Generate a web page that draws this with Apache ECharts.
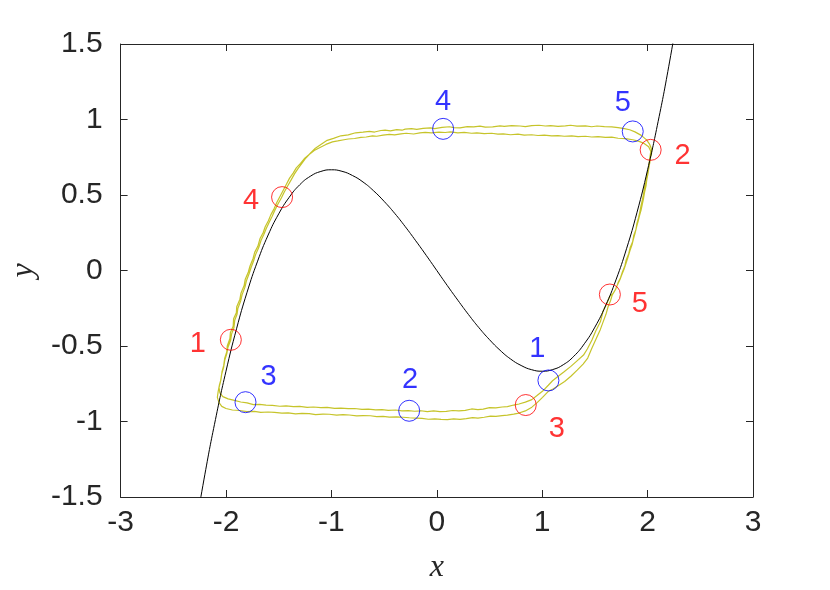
<!DOCTYPE html>
<html><head><meta charset="utf-8">
<script src="https://cdn.jsdelivr.net/npm/echarts/dist/echarts.min.js"></script>
<style>html,body{margin:0;padding:0;background:#fff}#c{width:830px;height:590px}</style>
</head><body><div id="c"></div>
<script>
// Cubic nullcline (black curve)
const cubicX = [-2.3,-2.2,-2.1,-2.0,-1.9,-1.8,-1.7,-1.6,-1.5,-1.4,-1.3,-1.2,-1.1,-1.0,-0.9,-0.8,-0.7,-0.6,-0.5,-0.4,-0.3,-0.2,-0.1,0,0.1,0.2,0.3,0.4,0.5,0.6,0.7,0.8,0.9,1.0,1.1,1.2,1.3,1.4,1.5,1.6,1.7,1.8,1.9,2.0,2.1,2.2,2.3];
const cubicY = [-1.756,-1.349,-0.987,-0.667,-0.386,-0.144,0.062,0.235,0.375,0.485,0.568,0.624,0.656,0.667,0.657,0.629,0.586,0.528,0.458,0.379,0.291,0.197,0.100,0,-0.100,-0.197,-0.291,-0.379,-0.458,-0.528,-0.586,-0.629,-0.657,-0.667,-0.656,-0.624,-0.568,-0.485,-0.375,-0.235,-0.062,0.144,0.386,0.667,0.987,1.349,1.756];

// Noisy trajectory, first lap
const trajLoopA = [[2.035,0.80],[2.03,0.76],[2.022,0.72],[2.012,0.68],[2.003,0.64],[1.992,0.60],[1.985,0.56],[1.972,0.52],[1.962,0.48],[1.95,0.44],[1.938,0.40],[1.922,0.36],[1.912,0.33],[1.896,0.29],[1.882,0.25],[1.866,0.21],[1.852,0.17],[1.832,0.13],[1.815,0.09],[1.796,0.05],[1.777,0.01],[1.754,-0.03],[1.738,-0.06],[1.711,-0.10],[1.692,-0.13],[1.666,-0.16],[1.648,-0.20],[1.625,-0.24],[1.605,-0.29],[1.578,-0.34],[1.552,-0.39],[1.513,-0.45],[1.468,-0.52],[1.432,-0.58],[1.388,-0.62],[1.332,-0.66],[1.272,-0.70],[1.213,-0.735],[1.148,-0.765],[1.102,-0.785],[1.058,-0.80],[1.003,-0.84],[0.952,-0.875],[0.902,-0.905],[0.84,-0.93],[0.78,-0.944],[0.73,-0.951],[0.67,-0.958],[0.62,-0.961],[0.56,-0.966],[0.51,-0.965],[0.45,-0.972],[0.39,-0.978],[0.34,-0.974],[0.28,-0.981],[0.22,-0.986],[0.16,-0.983],[0.10,-0.988],[0.04,-0.986],[-0.02,-0.982],[-0.08,-0.985],[-0.14,-0.979],[-0.20,-0.977],[-0.26,-0.975],[-0.32,-0.972],[-0.38,-0.97],[-0.45,-0.971],[-0.51,-0.966],[-0.57,-0.968],[-0.63,-0.962],[-0.70,-0.961],[-0.76,-0.963],[-0.83,-0.957],[-0.89,-0.955],[-0.95,-0.958],[-1.02,-0.952],[-1.08,-0.951],[-1.15,-0.954],[-1.21,-0.948],[-1.28,-0.946],[-1.34,-0.949],[-1.41,-0.943],[-1.47,-0.944],[-1.54,-0.94],[-1.60,-0.937],[-1.67,-0.939],[-1.73,-0.933],[-1.80,-0.935],[-1.87,-0.927],[-1.94,-0.924],[-2.00,-0.914],[-2.04,-0.90],[-2.066,-0.875],[-2.082,-0.84],[-2.074,-0.80],[-2.063,-0.76],[-2.047,-0.72],[-2.038,-0.67],[-2.022,-0.63],[-2.012,-0.58],[-1.993,-0.54],[-1.988,-0.50],[-1.963,-0.45],[-1.958,-0.41],[-1.932,-0.37],[-1.928,-0.32],[-1.902,-0.28],[-1.898,-0.24],[-1.868,-0.19],[-1.858,-0.15],[-1.828,-0.10],[-1.818,-0.06],[-1.788,-0.01],[-1.772,0.03],[-1.743,0.08],[-1.728,0.12],[-1.698,0.16],[-1.678,0.21],[-1.648,0.25],[-1.628,0.29],[-1.598,0.33],[-1.574,0.37],[-1.543,0.41],[-1.518,0.45],[-1.488,0.49],[-1.458,0.53],[-1.428,0.57],[-1.398,0.61],[-1.363,0.645],[-1.333,0.68],[-1.293,0.71],[-1.258,0.74],[-1.208,0.77],[-1.163,0.795],[-1.108,0.815],[-1.052,0.835],[-0.99,0.852],[-0.94,0.858],[-0.88,0.866],[-0.84,0.871],[-0.78,0.874],[-0.72,0.882],[-0.67,0.884],[-0.61,0.892],[-0.57,0.889],[-0.51,0.896],[-0.45,0.901],[-0.40,0.898],[-0.34,0.905],[-0.29,0.909],[-0.22,0.904],[-0.16,0.911],[-0.11,0.915],[-0.05,0.912],[0.02,0.917],[0.08,0.914],[0.13,0.918],[0.20,0.912],[0.26,0.915],[0.33,0.909],[0.38,0.911],[0.45,0.906],[0.52,0.909],[0.58,0.903],[0.63,0.905],[0.70,0.899],[0.77,0.903],[0.83,0.897],[0.90,0.899],[0.96,0.894],[1.02,0.897],[1.09,0.891],[1.15,0.893],[1.21,0.889],[1.28,0.892],[1.34,0.886],[1.41,0.889],[1.47,0.884],[1.53,0.886],[1.60,0.881],[1.66,0.883],[1.72,0.876],[1.79,0.873],[1.86,0.866],[1.92,0.855],[1.97,0.84],[2.01,0.82],[2.03,0.79]];

// Noisy trajectory, second lap
const trajLoopB = [[2.022,0.75],[2.014,0.71],[2.007,0.67],[1.993,0.63],[1.985,0.59],[1.97,0.55],[1.962,0.51],[1.951,0.47],[1.938,0.43],[1.927,0.39],[1.914,0.35],[1.898,0.31],[1.889,0.27],[1.868,0.23],[1.858,0.19],[1.834,0.15],[1.82,0.11],[1.797,0.07],[1.784,0.03],[1.761,-0.01],[1.742,-0.05],[1.72,-0.08],[1.70,-0.12],[1.675,-0.15],[1.642,-0.17],[1.612,-0.22],[1.578,-0.27],[1.552,-0.34],[1.508,-0.40],[1.472,-0.46],[1.428,-0.52],[1.392,-0.56],[1.328,-0.60],[1.272,-0.635],[1.208,-0.67],[1.152,-0.70],[1.098,-0.73],[1.058,-0.76],[1.002,-0.80],[0.948,-0.83],[0.902,-0.855],[0.84,-0.872],[0.78,-0.884],[0.73,-0.891],[0.67,-0.902],[0.62,-0.904],[0.56,-0.91],[0.50,-0.908],[0.44,-0.918],[0.39,-0.921],[0.33,-0.917],[0.27,-0.926],[0.21,-0.93],[0.15,-0.927],[0.09,-0.933],[0.03,-0.935],[-0.03,-0.93],[-0.09,-0.934],[-0.15,-0.929],[-0.21,-0.932],[-0.27,-0.928],[-0.33,-0.93],[-0.39,-0.924],[-0.46,-0.926],[-0.52,-0.921],[-0.58,-0.923],[-0.65,-0.918],[-0.71,-0.92],[-0.78,-0.914],[-0.84,-0.915],[-0.91,-0.911],[-0.97,-0.913],[-1.04,-0.907],[-1.10,-0.908],[-1.17,-0.904],[-1.23,-0.906],[-1.30,-0.90],[-1.36,-0.901],[-1.43,-0.897],[-1.49,-0.899],[-1.56,-0.893],[-1.62,-0.892],[-1.68,-0.887],[-1.74,-0.888],[-1.80,-0.877],[-1.86,-0.871],[-1.92,-0.86],[-1.98,-0.85],[-2.03,-0.835],[-2.058,-0.81],[-2.066,-0.775],[-2.052,-0.735],[-2.042,-0.69],[-2.022,-0.64],[-2.012,-0.595],[-1.992,-0.55],[-1.982,-0.51],[-1.955,-0.46],[-1.947,-0.42],[-1.925,-0.38],[-1.917,-0.33],[-1.895,-0.29],[-1.887,-0.25],[-1.86,-0.20],[-1.847,-0.16],[-1.82,-0.11],[-1.807,-0.07],[-1.78,-0.02],[-1.762,0.02],[-1.735,0.07],[-1.717,0.11],[-1.69,0.15],[-1.667,0.20],[-1.64,0.24],[-1.617,0.28],[-1.59,0.32],[-1.562,0.36],[-1.535,0.40],[-1.507,0.44],[-1.475,0.48],[-1.447,0.52],[-1.415,0.56],[-1.382,0.60],[-1.35,0.64],[-1.317,0.675],[-1.28,0.71],[-1.242,0.745],[-1.195,0.78],[-1.152,0.81],[-1.10,0.835],[-1.04,0.862],[-0.98,0.875],[-0.91,0.892],[-0.84,0.898],[-0.77,0.912],[-0.70,0.916],[-0.64,0.921],[-0.59,0.917],[-0.53,0.927],[-0.49,0.93],[-0.44,0.925],[-0.38,0.933],[-0.33,0.929],[-0.30,0.936],[-0.24,0.94],[-0.19,0.934],[-0.13,0.941],[-0.06,0.945],[-0.02,0.94],[0.05,0.948],[0.12,0.952],[0.16,0.946],[0.22,0.944],[0.29,0.953],[0.35,0.951],[0.41,0.956],[0.46,0.949],[0.53,0.951],[0.60,0.958],[0.64,0.955],[0.71,0.96],[0.79,0.957],[0.84,0.953],[0.90,0.959],[0.97,0.962],[1.03,0.957],[1.08,0.96],[1.15,0.955],[1.22,0.958],[1.27,0.962],[1.33,0.956],[1.41,0.958],[1.47,0.952],[1.52,0.957],[1.59,0.953],[1.66,0.951],[1.72,0.946],[1.78,0.94],[1.83,0.932],[1.88,0.918],[1.94,0.895],[1.99,0.865],[2.02,0.835],[2.04,0.80],[2.035,0.76]];

// Red markers and their numbers
const redX = [-1.954, 2.029, 0.844, -1.468, 1.642];
const redY = [-0.459, 0.799, -0.891, 0.486, -0.159];
const redLabels = ['1','2','3','4','5'];
// Blue markers and their numbers
const blueX = [1.059, -0.262, -1.815, 0.060, 1.859];
const blueY = [-0.728, -0.929, -0.872, 0.938, 0.921];
const blueLabels = ['1','2','3','4','5'];

// label offsets (style, px)
const redOffsets = [[-33,4],[32,6],[31,24],[-31,4],[30,9]];
const blueOffsets = [[-11,-31],[1,-31],[23,-25],[0,-27],[-10,-28]];

const axisColor = '#262626';
const tickFont = 'Liberation Sans';
const tickSize = 30;
const markSize = 29;

function markerData(xs, ys, labels, offs){
  return xs.map((x,i)=>({value:[x, ys[i]], name: labels[i], label:{offset: offs[i]}}));
}

const chart = echarts.init(document.getElementById('c'), null, {renderer:'canvas'});
chart.setOption({
  animation:false,
  backgroundColor:'#ffffff',
  grid:{left:119, right:77, top:44, bottom:93, containLabel:false},
  xAxis:[{
    type:'value', min:-3, max:3, interval:1,
    axisLine:{show:true, onZero:false, lineStyle:{color:axisColor, width:1}},
    axisTick:{show:true, inside:true, length:7, lineStyle:{color:axisColor}},
    axisLabel:{color:axisColor, fontFamily:tickFont, fontSize:tickSize, margin:11},
    splitLine:{show:false},
    name:'x', nameLocation:'middle', nameGap:55,
    nameTextStyle:{fontFamily:'Liberation Serif', fontStyle:'italic', fontSize:32, color:axisColor}
  },{
    type:'value', min:-3, max:3, interval:1, position:'top',
    axisLine:{show:true, onZero:false, lineStyle:{color:axisColor, width:1}},
    axisTick:{show:true, inside:true, length:7, lineStyle:{color:axisColor}},
    axisLabel:{show:false}, splitLine:{show:false}
  }],
  yAxis:[{
    type:'value', min:-1.5, max:1.5, interval:0.5,
    axisLine:{show:true, onZero:false, lineStyle:{color:axisColor, width:1}},
    axisTick:{show:true, inside:true, length:7, lineStyle:{color:axisColor}},
    axisLabel:{color:axisColor, fontFamily:tickFont, fontSize:tickSize, margin:18},
    splitLine:{show:false},
    name:'y', nameLocation:'middle', nameGap:80, nameRotate:90,
    nameTextStyle:{fontFamily:'Liberation Serif', fontStyle:'italic', fontSize:32, color:axisColor}
  },{
    type:'value', min:-1.5, max:1.5, interval:0.5, position:'right',
    axisLine:{show:true, onZero:false, lineStyle:{color:axisColor, width:1}},
    axisTick:{show:true, inside:true, length:7, lineStyle:{color:axisColor}},
    axisLabel:{show:false}, splitLine:{show:false}
  }],
  series:[
    {
      type:'line', data: trajLoopA.concat(trajLoopB), showSymbol:false, symbol:'none',
      lineStyle:{color:'#c6c42a', width:1.2}, z:2, clip:true
    },
    {
      type:'line', data: cubicX.map((x,i)=>[x, cubicY[i]]), smooth:true, showSymbol:false, symbol:'none',
      lineStyle:{color:'#000000', width:1}, z:3, clip:true
    },
    {
      type:'scatter', data: markerData(redX, redY, redLabels, redOffsets), symbol:'circle', symbolSize:21,
      itemStyle:{color:'rgba(0,0,0,0)', borderColor:'#ff0000', borderWidth:1},
      label:{show:true, position:'inside', formatter:'{b}', color:'#ff0000', textBorderWidth:0, fontFamily:tickFont, fontSize:markSize},
      z:4
    },
    {
      type:'scatter', data: markerData(blueX, blueY, blueLabels, blueOffsets), symbol:'circle', symbolSize:21,
      itemStyle:{color:'rgba(0,0,0,0)', borderColor:'#0000ff', borderWidth:1},
      label:{show:true, position:'inside', formatter:'{b}', color:'#0000ff', textBorderWidth:0, fontFamily:tickFont, fontSize:markSize},
      z:4
    }
  ]
});
</script>
</body></html>
